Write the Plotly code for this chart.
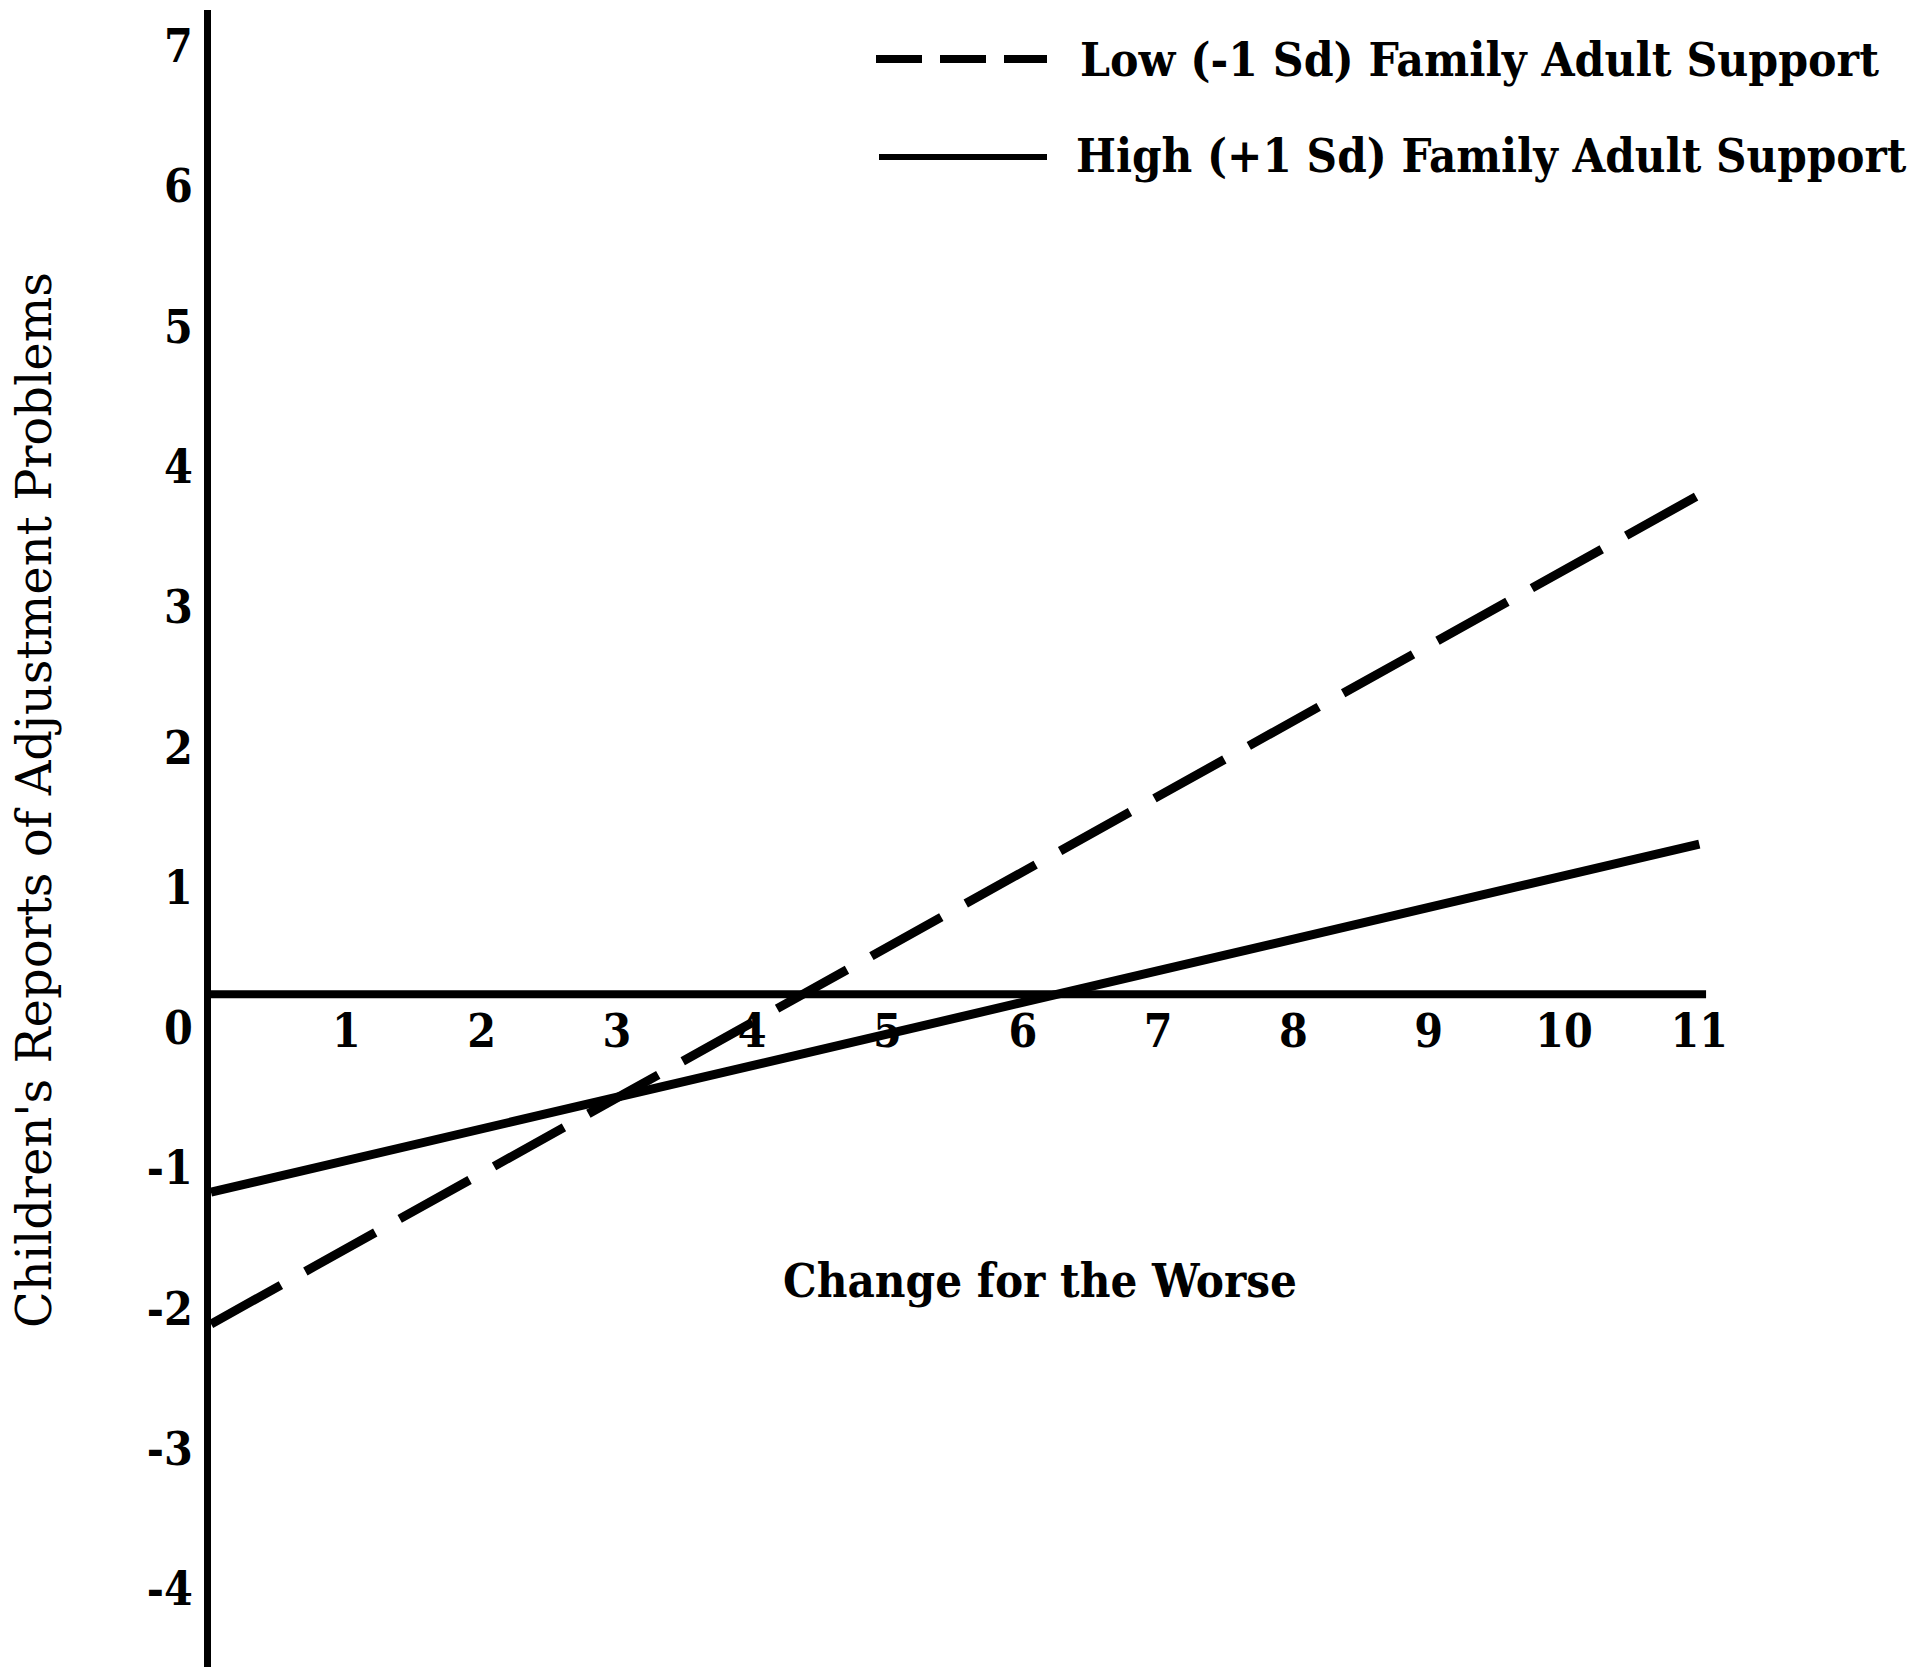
import plotly.graph_objects as go

# ---------------- data ----------------
change_x = [0, 11]
low_support = [-2.11, 3.80]     # Low (-1 Sd) Family Adult Support
high_support = [-1.17, 1.31]    # High (+1 Sd) Family Adult Support
x_tick_vals = [1, 2, 3, 4, 5, 6, 7, 8, 9, 10, 11]
x_tick_text = ["1", "2", "3", "4", "5", "6", "7", "8", "9", "10", "11"]
y_tick_vals = [-4, -3, -2, -1, 0, 1, 2, 3, 4, 5, 6, 7]
y_tick_text = ["-4", "-3", "-2", "-1", "0", "1", "2", "3", "4", "5", "6", "7"]
low_name = "Low (-1 Sd) Family Adult Support"
high_name = "High (+1 Sd) Family Adult Support"
x_title = "Change for the Worse"
y_title = "Children's Reports of Adjustment Problems"

# ---------------- layout geometry ----------------
W, H = 1920, 1679
ML, MR, MT, MB = 211, 10, 10, 12
PW, PH = W - ML - MR, H - MT - MB
X_UNIT, Y_UNIT = 135.3, 140.3
Y0_PIX = 1028
X_RANGE = [0, PW / X_UNIT]
Y_RANGE = [(Y0_PIX - (H - MB)) / Y_UNIT, (Y0_PIX - MT) / Y_UNIT]
BASELINE_Y = 0.24   # where the horizontal axis line is drawn
FONT_B = "DejaVu Serif Condensed, DejaVu Serif"
FONT_R = "DejaVu Serif"


def pxx(xp):
    return (xp - ML) / PW


def pxy(yp):
    return (H - MB - yp) / PH


fig = go.Figure()
fig.add_trace(go.Scatter(
    x=change_x, y=low_support, mode="lines", name=low_name,
    line=dict(color="black", width=9, dash="80px,28px"),
))
fig.add_trace(go.Scatter(
    x=change_x, y=high_support, mode="lines", name=high_name,
    line=dict(color="black", width=9),
))

shapes = [
    # horizontal axis line
    dict(type="line", xref="x", yref="y", x0=0, x1=11.05, y0=BASELINE_Y, y1=BASELINE_Y,
         line=dict(color="black", width=8)),
    # legend samples
    dict(type="line", xref="paper", yref="paper", x0=pxx(876), x1=pxx(1047),
         y0=pxy(59), y1=pxy(59), line=dict(color="black", width=8, dash="46px,18px")),
    dict(type="line", xref="paper", yref="paper", x0=pxx(879), x1=pxx(1047),
         y0=pxy(157), y1=pxy(157), line=dict(color="black", width=6)),
]

annotations = [
    dict(text=low_name, xref="paper", yref="paper", x=pxx(1078), y=pxy(59),
         xanchor="left", yanchor="middle", showarrow=False,
         font=dict(family=FONT_B, size=47.5, color="black", weight="bold")),
    dict(text=high_name, xref="paper", yref="paper", x=pxx(1074), y=pxy(155),
         xanchor="left", yanchor="middle", showarrow=False,
         font=dict(family=FONT_B, size=47, color="black", weight="bold")),
    dict(text=x_title, xref="x", yref="y", x=6.13, y=-1.80,
         xanchor="center", yanchor="middle", showarrow=False,
         font=dict(family=FONT_B, size=47, color="black", weight="bold")),
    dict(text=y_title, xref="paper", yref="paper", x=pxx(34), y=pxy(800),
         xanchor="center", yanchor="middle", textangle=-90, showarrow=False,
         font=dict(family=FONT_R, size=48, color="black")),
]

fig.update_layout(
    width=W, height=H,
    margin=dict(l=ML, r=MR, t=MT, b=MB, pad=0),
    paper_bgcolor="white", plot_bgcolor="white",
    showlegend=False,
    shapes=shapes,
    annotations=annotations,
    xaxis=dict(
        range=X_RANGE, showgrid=False, zeroline=False, showline=False,
        tickmode="array", tickvals=x_tick_vals, ticktext=x_tick_text, ticks="",
        anchor="free", position=(BASELINE_Y - Y_RANGE[0]) / (Y_RANGE[1] - Y_RANGE[0]),
        ticklabelstandoff=6,
        tickfont=dict(family=FONT_B, size=46, color="black", weight="bold"),
    ),
    yaxis=dict(
        range=Y_RANGE, showgrid=False, zeroline=False,
        showline=True, linewidth=7, linecolor="black",
        tickmode="array", tickvals=y_tick_vals, ticktext=y_tick_text, ticks="",
        ticklabelstandoff=2,
        tickfont=dict(family=FONT_B, size=46, color="black", weight="bold"),
    ),
)

fig.write_html("out.html", config={"displayModeBar": False},
               post_script="document.body.style.margin='0px';")
